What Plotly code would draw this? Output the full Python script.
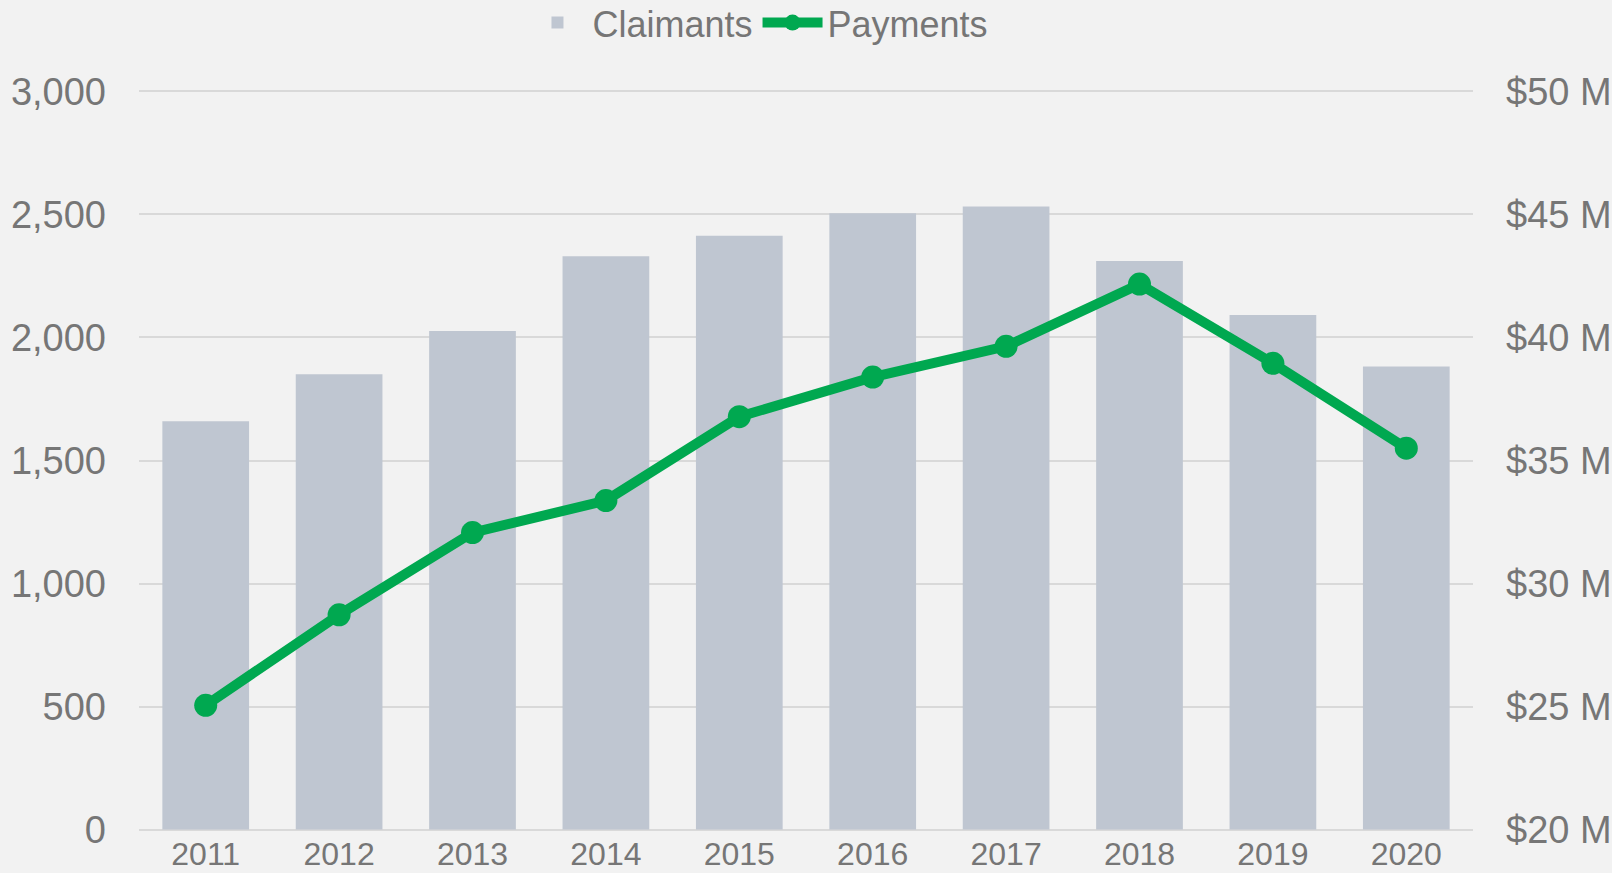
import plotly.graph_objects as go

years = ["2011", "2012", "2013", "2014", "2015", "2016", "2017", "2018", "2019", "2020"]
claimants = [1660, 1851, 2026, 2330, 2414, 2505, 2532, 2311, 2091, 1882]
payments_m = [25.05, 28.73, 32.07, 33.37, 36.78, 38.39, 39.64, 42.17, 38.95, 35.5]

left_ticks = [0, 500, 1000, 1500, 2000, 2500, 3000]
right_ticks = [20, 25, 30, 35, 40, 45, 50]
right_labels = ["$20 M", "$25 M", "$30 M", "$35 M", "$40 M", "$45 M", "$50 M"]

FONT = "Liberation Sans, Arial, sans-serif"
TXT = "#767676"

fig = go.Figure()
fig.add_trace(go.Bar(
    x=years, y=claimants, name="Claimants",
    marker=dict(color="#BFC6D1", line=dict(width=0)),
    yaxis="y",
))
fig.add_trace(go.Scatter(
    x=years, y=payments_m, name="Payments", mode="lines+markers",
    line=dict(color="#00A850", width=10),
    marker=dict(color="#00A850", size=23),
    yaxis="y2",
))

fig.update_layout(
    width=1612, height=873,
    paper_bgcolor="#F2F2F2", plot_bgcolor="#F2F2F2",
    margin=dict(l=139, r=139, t=88.5, b=40.5, autoexpand=False),
    font=dict(family=FONT, color=TXT),
    bargap=0.35,
    showlegend=True,
    legend=dict(
        orientation="h", x=0.464, xanchor="center", y=1.0893, yanchor="middle",
        yref="paper", font=dict(size=36, color=TXT),
        bgcolor="rgba(0,0,0,0)", itemwidth=60, tracegroupgap=0,
    ),
    xaxis=dict(
        type="category", range=[-0.5, len(years) - 0.5],
        showgrid=False, zeroline=False, showline=False,
        tickfont=dict(size=32, color=TXT), ticks="", ticklabelstandoff=0,
        automargin=False,
    ),
    yaxis=dict(
        range=[-10, 3010], tickvals=left_ticks, tickformat=",",
        showgrid=True, gridcolor="#D9D9D9", gridwidth=2,
        zeroline=False, showline=False, ticks="",
        tickfont=dict(size=38, color=TXT), ticklabelstandoff=32,
        automargin=False,
    ),
    yaxis2=dict(
        range=[19.9, 50.1], tickvals=right_ticks, ticktext=right_labels,
        overlaying="y", side="right", showgrid=False, zeroline=False,
        showline=False, ticks="",
        tickfont=dict(size=38, color=TXT), ticklabelstandoff=32,
        automargin=False,
    ),
)

fig.write_html("out.html", config={"displayModeBar": False},
               post_script="document.body.style.margin='0';")
